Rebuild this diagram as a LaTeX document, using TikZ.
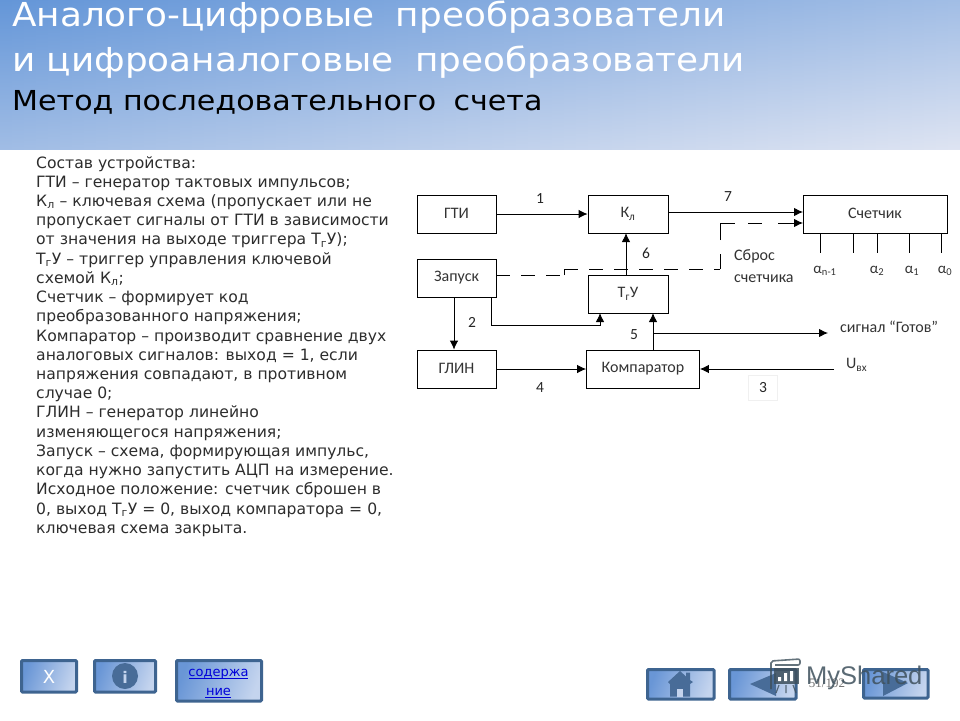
\documentclass[tikz,border=0pt]{standalone}
\usepackage{fontspec}
\usepackage{graphicx}
\usetikzlibrary{arrows.meta,calc}
\newfontfamily\myverd{DejaVu Sans}
\newfontfamily\mycarl{Carlito}
\newfontfamily\mylib{Liberation Sans}
\newfontfamily\myser{Liberation Serif}
\definecolor{hdrA}{RGB}{100,150,216}
\definecolor{hdrB}{RGB}{222,228,242}
\definecolor{btnA}{RGB}{105,150,214}
\definecolor{btnB}{RGB}{196,212,238}
\definecolor{btnE}{RGB}{62,100,144}
\definecolor{ico}{RGB}{72,108,152}
\definecolor{bodyc}{RGB}{45,45,45}
\definecolor{wm}{RGB}{62,80,92}
\tikzset{
  blk/.style={draw=black,line width=0.8pt,rectangle,inner sep=0pt,font=\mycarl\fontsize{16}{18}\selectfont,text=black!80},
  arr/.style={draw=black,line width=0.9pt,-{Latex[length=9pt,width=8.5pt]}},
  lin/.style={draw=black,line width=0.8pt},
  dsh/.style={draw=black,line width=0.8pt,dash pattern=on 14pt off 11pt},
  lab/.style={inner sep=0pt,font=\mycarl\fontsize{16}{18}\selectfont,text=black!80},
  num/.style={inner sep=0pt,font=\mycarl\fontsize{15.5}{17}\selectfont,text=black!85},
  alf/.style={inner sep=0pt,font=\mycarl\fontsize{15}{17}\selectfont,text=black!80},
  btn/.style={rounded corners=1pt,draw=btnE,line width=3pt,left color=btnA,right color=btnB,shading angle=70},
  ttl/.style={anchor=base west,inner sep=0pt},
}
\newcommand{\sbs}[1]{\textsubscript{#1}}
\newcommand{\up}[1]{\raisebox{1.5pt}{#1}}
\begin{document}
\begin{tikzpicture}[x=1pt,y=-1pt]
\useasboundingbox (0,0) rectangle (960,720);
\fill[white] (0,0) rectangle (960,720);
% header: diagonal gradient built from narrow vertical strips
\begin{scope}
\clip (0,0) rectangle (960,149.5);
\foreach \i in {0,...,79}{
  \pgfmathsetmacro{\ptop}{\i*50/79}
  \pgfmathsetmacro{\pbot}{50+\i*50/79}
  \shade[top color=hdrB!\ptop!hdrA,bottom color=hdrB!\pbot!hdrA] ({\i*12},0) rectangle ({\i*12+13},150);
}
\end{scope}
\node[ttl,text=white] (t1) at (12,27) {\scalebox{1.085}[1.0]{\myverd\fontsize{33}{36}\selectfont Аналого-цифровые \hspace{9pt}преобразователи}};
\node[ttl,text=white] (t2) at (12,71) {\scalebox{1.085}[1.0]{\myverd\fontsize{33}{36}\selectfont и цифроаналоговые \hspace{9pt}преобразователи}};
\node[ttl,text=black] (t3) at (12,110) {\scalebox{1.095}[1.0]{\myverd\fontsize{27.5}{30}\selectfont Метод последовательного \hspace{7pt}счета}};
% body text
\node[anchor=north west,inner sep=0pt,align=left,text=bodyc,font=\myverd\fontsize{15.6}{19.22}\selectfont] (body) at (36,156) {Состав устройства:\\
ГТИ – генератор тактовых импульсов;\\
К\sbs{л} – ключевая схема (пропускает или не\\
пропускает сигналы от ГТИ в зависимости\\
от значения на выходе триггера Т\sbs{г}У);\\
Т\sbs{г}У – триггер управления ключевой\\
схемой К\sbs{л};\\
Счетчик – формирует код\\
преобразованного напряжения;\\
Компаратор – производит сравнение двух\\
аналоговых сигналов: выход = 1, если\\
напряжения совпадают, в противном\\
случае 0;\\
ГЛИН – генератор линейно\\
изменяющегося напряжения;\\
Запуск – схема, формирующая импульс,\\
когда нужно запустить АЦП на измерение.\\
Исходное положение: счетчик сброшен в\\
0, выход Т\sbs{г}У = 0, выход компаратора = 0,\\
ключевая схема закрыта.};
% blocks
\node[blk,minimum width=79pt,minimum height=38pt] (gti) at (456.5,214) {\up{ГТИ}};
\node[blk,minimum width=79pt,minimum height=38pt] (zap) at (456.5,278) {\up{Запуск}};
\node[blk,minimum width=79pt,minimum height=38pt] (glin) at (456.5,369) {\up{ГЛИН}};
\node[blk,minimum width=80pt,minimum height=38pt] (kl) at (628,214) {\up{К\sbs{л}}};
\node[blk,minimum width=80pt,minimum height=38pt] (tgu) at (628,294) {\up{Т\sbs{г}У}};
\node[blk,minimum width=113pt,minimum height=38pt] (komp) at (643,369) {\up{Компаратор}};
\node[blk,minimum width=144pt,minimum height=38pt] (sch) at (875,214) {\up{Счетчик}};
% helper points
\coordinate (inA) at (803,212);
\coordinate (inB) at (803,223);
\coordinate (d1) at (564,275);
\coordinate (d2) at (564,269);
\coordinate (d3) at (720,269);
\coordinate (d3b) at (720,254);
\coordinate (d3c) at (720,240);
\coordinate (d4) at (720,223);
\coordinate (d4b) at (735,223);
\coordinate (d4c) at (748,223);
\coordinate (d5) at (762,223);
\coordinate (d6) at (778,223);
\coordinate (klb) at (626,233);
\coordinate (j1) at (491,325);
\coordinate (tin1) at (600,313);
\coordinate (tin2) at (653,313);
\coordinate (gotov) at (653,333);
\coordinate (gotovE) at (828,333);
\coordinate (uin) at (834,369);
\coordinate (z2) at (454,297);
% connectors
\draw[arr] (gti.east) -- (kl.west);
\draw[arr] (inA -| kl.east) -- (inA);
\draw[arr] (klb |- tgu.north) -- (klb);
\draw[arr] (z2) -- (z2 |- glin.north);
\draw[arr] (j1 |- zap.south) -- (j1) -- (j1 -| tin1) -- (tin1);
\draw[arr] (tin2 |- komp.north) -- (tin2);
\draw[arr] (gotov) -- (gotovE);
\draw[arr] (glin.east) -- (komp.west);
\draw[arr] (uin) -- (komp.east);
\draw[dsh] (d1 -| zap.east) -- (d1);
\draw[lin] (d1) -- (d2);
\draw[dsh] (d2) -- (d3);
\draw[lin] (d3) -- (d3b);
\draw[lin] (d3c) -- (d4) -- (d4b);
\draw[lin] (d4c) -- (d5);
\draw[arr] (d6) -- (inB);
% counter outputs
\foreach \n/\x in {a/820,b/853,c/877,d/909,e/941}{
  \coordinate (o\n) at (\x,253);
  \draw[lin] (o\n |- sch.south) -- (o\n);
}
\node[alf] (an) at (825,271) {α\sbs{n-1}};
\node[alf] (a2) at (877,271) {α\sbs{2}};
\node[alf] (a1) at (912,271) {α\sbs{1}};
\node[alf] (a0) at (945,271) {α\sbs{0}};
\node[lab,anchor=west] (sb1) at (734,256) {Сброс};
\node[lab,anchor=west] (sb2) at (734,279) {счетчика};
\node[lab,anchor=west] (gt) at (840,327) {сигнал “Готов”};
\node[lab,anchor=west] (ux) at (846,365) {U\sbs{вх}};
\node[num] (n1) at (540,199) {1};
\node[num] (n7) at (728,197) {7};
\node[num] (n6) at (646,253) {6};
\node[num] (n2) at (472,322) {2};
\node[num] (n5) at (634,335) {5};
\node[num] (n4) at (540,388) {4};
\node[num,draw=black!6,minimum width=29pt,minimum height=25pt,fill=white] (n3) at (763,388) {3};
% buttons
\path[btn] (21.5,660.5) rectangle (76.5,692);
\node[inner sep=0pt,text=white,font=\myverd\fontsize{18}{20}\selectfont] (bx) at (49,677) {X};
\path[btn] (94.5,660.5) rectangle (155.5,692);
\node[circle,fill=ico,minimum size=26pt,inner sep=0pt] (binf) at (125,676) {};
\node[inner sep=0pt,text=btnB,font=\myverd\bfseries\fontsize{16}{18}\selectfont] (bi) at (125,677) {i};
\path[btn] (176.5,660.5) rectangle (261.5,701);
\node[inner sep=0pt,text=blue!85!black,font=\myverd\fontsize{13}{15}\selectfont,anchor=base] (c1) at (218.5,676) {содержа};
\draw[blue!85!black,line width=0.8pt] (189,678) -- (248,678);
\node[inner sep=0pt,text=blue!85!black,font=\myverd\fontsize{13}{15}\selectfont,anchor=base] (c2) at (218.5,695) {ние};
\draw[blue!85!black,line width=0.8pt] (205,697.5) -- (231,697.5);
\path[btn] (647.5,669.5) rectangle (714,699);
\fill[ico] (668,682) -- (680,671) -- (686,676.5) -- (686,672.5) -- (690,672.5) -- (690,680) -- (693,682) -- (690,684) -- (690,696.5) -- (670,696.5) -- (670,684) -- cycle;
\fill[btnB] (677,689) rectangle (683,696.5);
\path[btn] (729.5,669.5) rectangle (796,699);
\fill[ico] (750,684) -- (776,673) -- (776,696) -- cycle;
\path[btn] (863.5,669.5) rectangle (928,698);
\fill[ico] (883,672) -- (908,683) -- (883,696) -- cycle;
\node[inner sep=0pt,text=black!55,font=\myser\fontsize{13}{15}\selectfont] (pg) at (827,683) {51/192};
% watermark
\draw[wm,line width=1.6pt,opacity=.8,rounded corners=2pt] (771,689) -- (771,661) -- (800,659) -- (800,665) -- (775,665);
\fill[wm,opacity=.85] (774,668) rectangle (799,684);
\fill[white] (778,677) rectangle (781,681) (784,673) rectangle (787,681) (790,671) rectangle (793,681);
\draw[wm,line width=1.2pt,opacity=.8] (779,685) -- (776,693) (786,685) -- (786,693) (793,685) -- (796,693);
\node[anchor=base west,inner sep=0pt,text=wm,opacity=.85,font=\mylib\fontsize{25.5}{28}\selectfont] (ms) at (806,684) {MyShared};
\end{tikzpicture}
\end{document}
